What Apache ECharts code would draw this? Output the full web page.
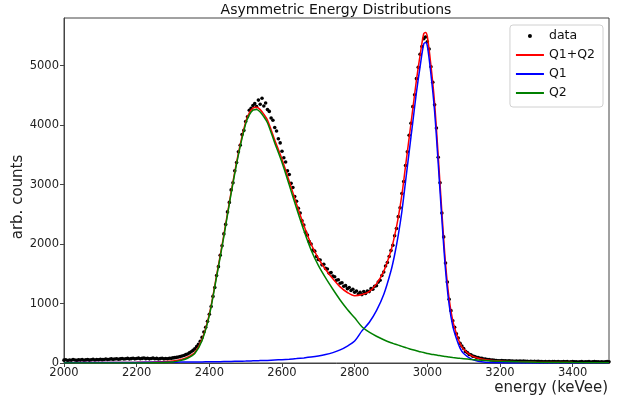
<!DOCTYPE html>
<html>
<head>
<meta charset="utf-8">
<title>Asymmetric Energy Distributions</title>
<script src="https://cdn.jsdelivr.net/npm/echarts@6/dist/echarts.min.js"></script>
<style>
html, body { margin: 0; padding: 0; background: #fff; }
#chart { width: 622px; height: 398px; }
</style>
</head>
<body>
<div id="chart"></div>
<script>
// measured spectrum, one bin every 5 keVee starting at 2000
var dataStart = 2000;
var dataStep = 5;
var counts = [
  48, 55, 42, 51, 46, 58, 50, 44, 53, 49, 57, 45, 52, 60, 48, 55, 62, 50, 58, 54,
  63, 56, 60, 67, 58, 64, 70, 61, 66, 72, 63, 69, 75, 66, 71, 78, 68, 74, 80, 70,
  76, 82, 72, 77, 84, 73, 79, 70, 76, 82, 71, 77, 68, 74, 80, 70, 76, 72, 80, 78,
  86, 90, 95, 102, 108, 118, 126, 140, 152, 170, 190, 212, 240, 275, 315, 365, 430, 520, 600, 700,
  820, 950, 1120, 1270, 1470, 1620, 1810, 1970, 2170, 2330, 2540, 2700, 2910, 3030, 3230, 3370, 3550, 3660, 3840, 3910,
  4060, 4140, 4250, 4280, 4330, 4360, 4310, 4420, 4350, 4450, 4320, 4370, 4260, 4230, 4120, 4080, 3960, 3900, 3770, 3700,
  3560, 3450, 3380, 3230, 3170, 3020, 2950, 2800, 2720, 2600, 2520, 2390, 2320, 2200, 2150, 2040, 2000, 1900, 1880, 1790,
  1740, 1730, 1650, 1660, 1590, 1580, 1510, 1520, 1460, 1450, 1390, 1400, 1340, 1350, 1290, 1300, 1250, 1270, 1220, 1240,
  1190, 1210, 1160, 1190, 1150, 1200, 1170, 1210, 1200, 1250, 1240, 1290, 1300, 1360, 1390, 1470, 1530, 1630, 1690, 1790,
  1890, 1980, 2140, 2260, 2460, 2610, 2850, 3050, 3320, 3550, 3830, 4030, 4310, 4510, 4780, 4970, 5190, 5320, 5450, 5480,
  5400, 5280, 4980, 4720, 4340, 3950, 3460, 3030, 2520, 2120, 1680, 1360, 1070, 880, 710, 600, 490, 420, 330, 285,
  245, 195, 175, 145, 138, 115, 110, 95, 92, 80, 78, 68, 66, 58, 57, 50, 49, 44, 43, 38,
  38, 41, 35, 37, 33, 36, 32, 34, 30, 33, 29, 32, 28, 31, 27, 30, 26, 29, 25, 28,
  24, 27, 23, 26, 22, 25, 21, 24, 20, 23, 26, 21, 24, 19, 22, 25, 20, 23, 18, 22,
  24, 19, 22, 17, 21, 25, 18, 22, 20, 23, 17, 21, 24, 19, 22, 18, 21, 16, 20, 23,
  19
];

// fitted curves
var curveX = [2000, 2100, 2200, 2250, 2300, 2320, 2340, 2360, 2380, 2400,
  2420, 2440, 2460, 2480, 2500, 2510, 2520, 2530, 2540, 2550,
  2560, 2580, 2600, 2620, 2640, 2660, 2680, 2700, 2720, 2740,
  2760, 2780, 2800, 2820, 2840, 2860, 2880, 2900, 2910, 2920,
  2930, 2940, 2950, 2960, 2970, 2980, 2990, 2995, 3000, 3010,
  3020, 3030, 3040, 3050, 3060, 3070, 3080, 3090, 3100, 3120,
  3140, 3160, 3200, 3250, 3300, 3400, 3500];
var q1 = [5, 8, 10, 12, 14, 15, 16, 17, 18, 20,
  22, 24, 26, 29, 32, 34, 36, 38, 40, 42,
  44, 50, 56, 64, 74, 86, 100, 118, 142, 175,
  220, 285, 370, 540, 680, 880, 1150, 1550, 1820, 2150,
  2550, 3050, 3550, 4050, 4550, 4980, 5360, 5390, 5330, 4850,
  4230, 3350, 2420, 1570, 980, 620, 410, 250, 160, 70,
  30, 14, 4, 1, 0, 0, 0];
var q2 = [0, 0, 1, 4, 18, 40, 80, 160, 380, 800,
  1450, 2130, 2850, 3500, 4020, 4170, 4250, 4260, 4220, 4140,
  4040, 3700, 3370, 2990, 2600, 2230, 1900, 1640, 1430, 1240,
  1060, 900, 760, 610, 520, 450, 390, 340, 320, 300,
  280, 260, 240, 222, 205, 190, 175, 168, 160, 148,
  138, 128, 118, 110, 100, 92, 85, 78, 72, 60,
  50, 42, 30, 20, 14, 7, 4];
var q12 = [5, 8, 11, 16, 32, 55, 96, 177, 398, 820,
  1472, 2154, 2876, 3529, 4052, 4204, 4286, 4298, 4260, 4182,
  4084, 3750, 3426, 3054, 2674, 2316, 2000, 1758, 1572, 1415,
  1280, 1185, 1130, 1150, 1200, 1330, 1540, 1890, 2140, 2450,
  2830, 3310, 3790, 4272, 4755, 5170, 5535, 5558, 5490, 4998,
  4368, 3478, 2538, 1680, 1080, 712, 495, 328, 232, 130,
  80, 56, 34, 21, 14, 7, 4];

var xTicks = [2000, 2200, 2400, 2600, 2800, 3000, 3200, 3400];
var yTicks = [0, 1000, 2000, 3000, 4000, 5000];

function pairs(xs, ys) {
  var out = [];
  for (var i = 0; i < ys.length; i++) out.push([xs[i], ys[i]]);
  return out;
}
var dataX = [];
for (var i = 0; i < counts.length; i++) dataX.push(dataStart + i * dataStep);

var chart = echarts.init(document.getElementById('chart'));
var font = 'DejaVu Sans';
var lineIcon = 'path://M0,0H28V2H0Z';
var plain = function (v) { return String(v); };
var option = {
  animation: false,
  textStyle: { fontFamily: font },
  grid: { left: 64, right: 13, top: 18, bottom: 35, show: true, borderColor: '#444', borderWidth: 1 },
  graphic: [
    { type: 'text', x: 336, y: 10, style: { text: 'Asymmetric Energy Distributions', font: '14px ' + font, fill: '#111', textAlign: 'center', textVerticalAlign: 'middle' } },
    { type: 'text', x: 18, y: 197, rotation: Math.PI / 2, style: { text: 'arb. counts', font: '15px ' + font, fill: '#222', textAlign: 'center', textVerticalAlign: 'middle' } },
    { type: 'text', x: 608, y: 388, style: { text: 'energy (keVee)', font: '15px ' + font, fill: '#222', textAlign: 'right', textVerticalAlign: 'middle' } }
  ],
  legend: {
    data: [
      { name: 'data', icon: 'circle' },
      { name: 'Q1+Q2', icon: lineIcon },
      { name: 'Q1', icon: lineIcon },
      { name: 'Q2', icon: lineIcon }
    ],
    orient: 'vertical',
    right: 19, top: 25,
    itemWidth: 28, itemHeight: 4, itemGap: 5,
    padding: [4, 8, 7, 6],
    borderColor: '#d0d0d0', borderWidth: 1, borderRadius: 3,
    backgroundColor: '#fff',
    textStyle: { fontSize: 12.5, lineHeight: 14, color: '#111', fontFamily: font }
  },
  xAxis: {
    type: 'value', min: 2000, max: 3500,
    axisLine: { lineStyle: { color: '#444' } },
    axisTick: { length: 4, customValues: xTicks, lineStyle: { color: '#444' } },
    axisLabel: { fontSize: 11.5, color: '#222', margin: 4, customValues: xTicks, formatter: plain },
    splitLine: { show: false }
  },
  yAxis: {
    type: 'value', min: 0, max: 5800,
    axisLine: { show: true, lineStyle: { color: '#444' } },
    axisTick: { show: true, length: 4, customValues: yTicks, lineStyle: { color: '#444' } },
    axisLabel: { fontSize: 11.5, color: '#222', margin: 5, customValues: yTicks, formatter: plain },
    splitLine: { show: false }
  },
  series: [
    { name: 'data', type: 'scatter', data: pairs(dataX, counts), symbolSize: 3.6,
      itemStyle: { color: '#000', opacity: 1 }, z: 2 },
    { name: 'Q1+Q2', type: 'line', data: pairs(curveX, q12), symbol: 'none', smooth: 0.3,
      lineStyle: { color: '#ff0000', width: 1.5 }, itemStyle: { color: '#ff0000' }, z: 3 },
    { name: 'Q1', type: 'line', data: pairs(curveX, q1), symbol: 'none', smooth: 0.3,
      lineStyle: { color: '#0000ff', width: 1.5 }, itemStyle: { color: '#0000ff' }, z: 4 },
    { name: 'Q2', type: 'line', data: pairs(curveX, q2), symbol: 'none', smooth: 0.3,
      lineStyle: { color: '#008000', width: 1.5 }, itemStyle: { color: '#008000' }, z: 5 }
  ]
};
chart.setOption(option);
</script>
</body>
</html>
